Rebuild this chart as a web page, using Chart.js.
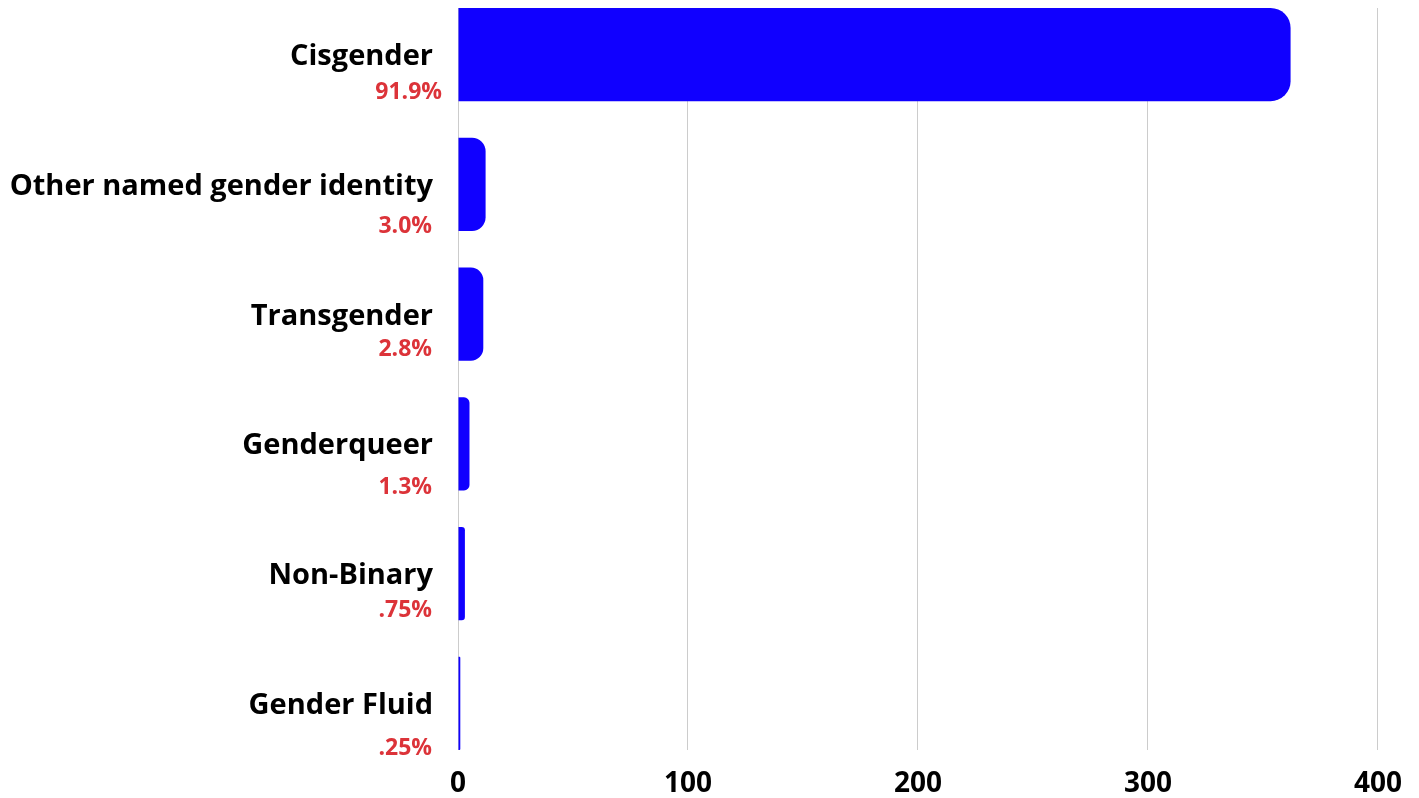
<!DOCTYPE html>
<html><head><meta charset="utf-8">
<script src="https://cdn.jsdelivr.net/npm/chart.js@4"></script>
<style>html,body{margin:0;padding:0;background:#fff}#wrap{width:1419px;height:798px;position:relative}</style>
</head><body><div id="wrap"><canvas id="c"></canvas></div>
<script>
// ---- data ----
const categories = ['Cisgender', 'Other named gender identity', 'Transgender', 'Genderqueer', 'Non-Binary', 'Gender Fluid'];
const counts = [362, 12, 11, 5, 3, 1];
const percentLabels = ['91.9%', '3.0%', '2.8%', '1.3%', '.75%', '.25%'];
const xTickValues = [0, 100, 200, 300, 400];

// ---- style (label placement tweaks) ----
const pctBaselineDy = [44.5, 49, 41.7, 50.3, 43, 52];
const pctRightDx = [10, 0, 0, 0, 0, 0];
const FONT = '"Open Sans", "Noto Sans", sans-serif';

const twoColorLabels = {
  id: 'twoColorLabels',
  afterDraw(chart) {
    const ctx = chart.ctx;
    const ys = chart.scales.y;
    const right = chart.chartArea.left - 25;
    ctx.save();
    ctx.textAlign = 'right';
    ctx.textBaseline = 'alphabetic';
    categories.forEach((name, i) => {
      const py = ys.getPixelForValue(i);
      ctx.font = 'bold 29px ' + FONT;
      ctx.fillStyle = '#000000';
      ctx.fillText(name, right, py + 10.5);
      ctx.font = 'bold 23px ' + FONT;
      ctx.fillStyle = '#dc3339';
      ctx.fillText(percentLabels[i], right - 1 + pctRightDx[i], py + pctBaselineDy[i]);
    });
    ctx.restore();
  }
};

const half = 0.3588;
new Chart(document.getElementById('c'), {
  type: 'bar',
  data: {
    datasets: [{
      data: counts.map((v, i) => ({ x: v, y: i })),
      backgroundColor: '#1000ff',
      borderRadius: 20,
      borderSkipped: 'start',
      categoryPercentage: 1,
      barPercentage: 0.7176
    }]
  },
  options: {
    indexAxis: 'y',
    responsive: true,
    maintainAspectRatio: false,
    animation: false,
    layout: { padding: { top: 8, right: 41, bottom: 0, left: 0 } },
    plugins: { legend: { display: false }, tooltip: { enabled: false } },
    scales: {
      x: {
        type: 'linear',
        min: xTickValues[0],
        max: xTickValues[xTickValues.length - 1],
        afterBuildTicks: s => { s.ticks = xTickValues.map(v => ({ value: v })); },
        afterFit: s => { s.height = 48; },
        grid: { color: '#cccccc', lineWidth: 1, drawTicks: false },
        border: { display: false },
        ticks: { color: '#000', font: { family: FONT, size: 28, weight: 'bold' }, padding: 17 }
      },
      y: {
        type: 'linear',
        reverse: true,
        offset: false,
        bounds: 'data',
        min: -half,
        max: categories.length - 1 + half,
        afterFit: s => { s.width = 458; },
        afterBuildTicks: s => { s.ticks = categories.map((c, i) => ({ value: i })); },
        ticks: { display: false },
        grid: { display: false, offset: false },
        border: { display: false }
      }
    }
  },
  plugins: [twoColorLabels]
});
</script>
</body></html>
